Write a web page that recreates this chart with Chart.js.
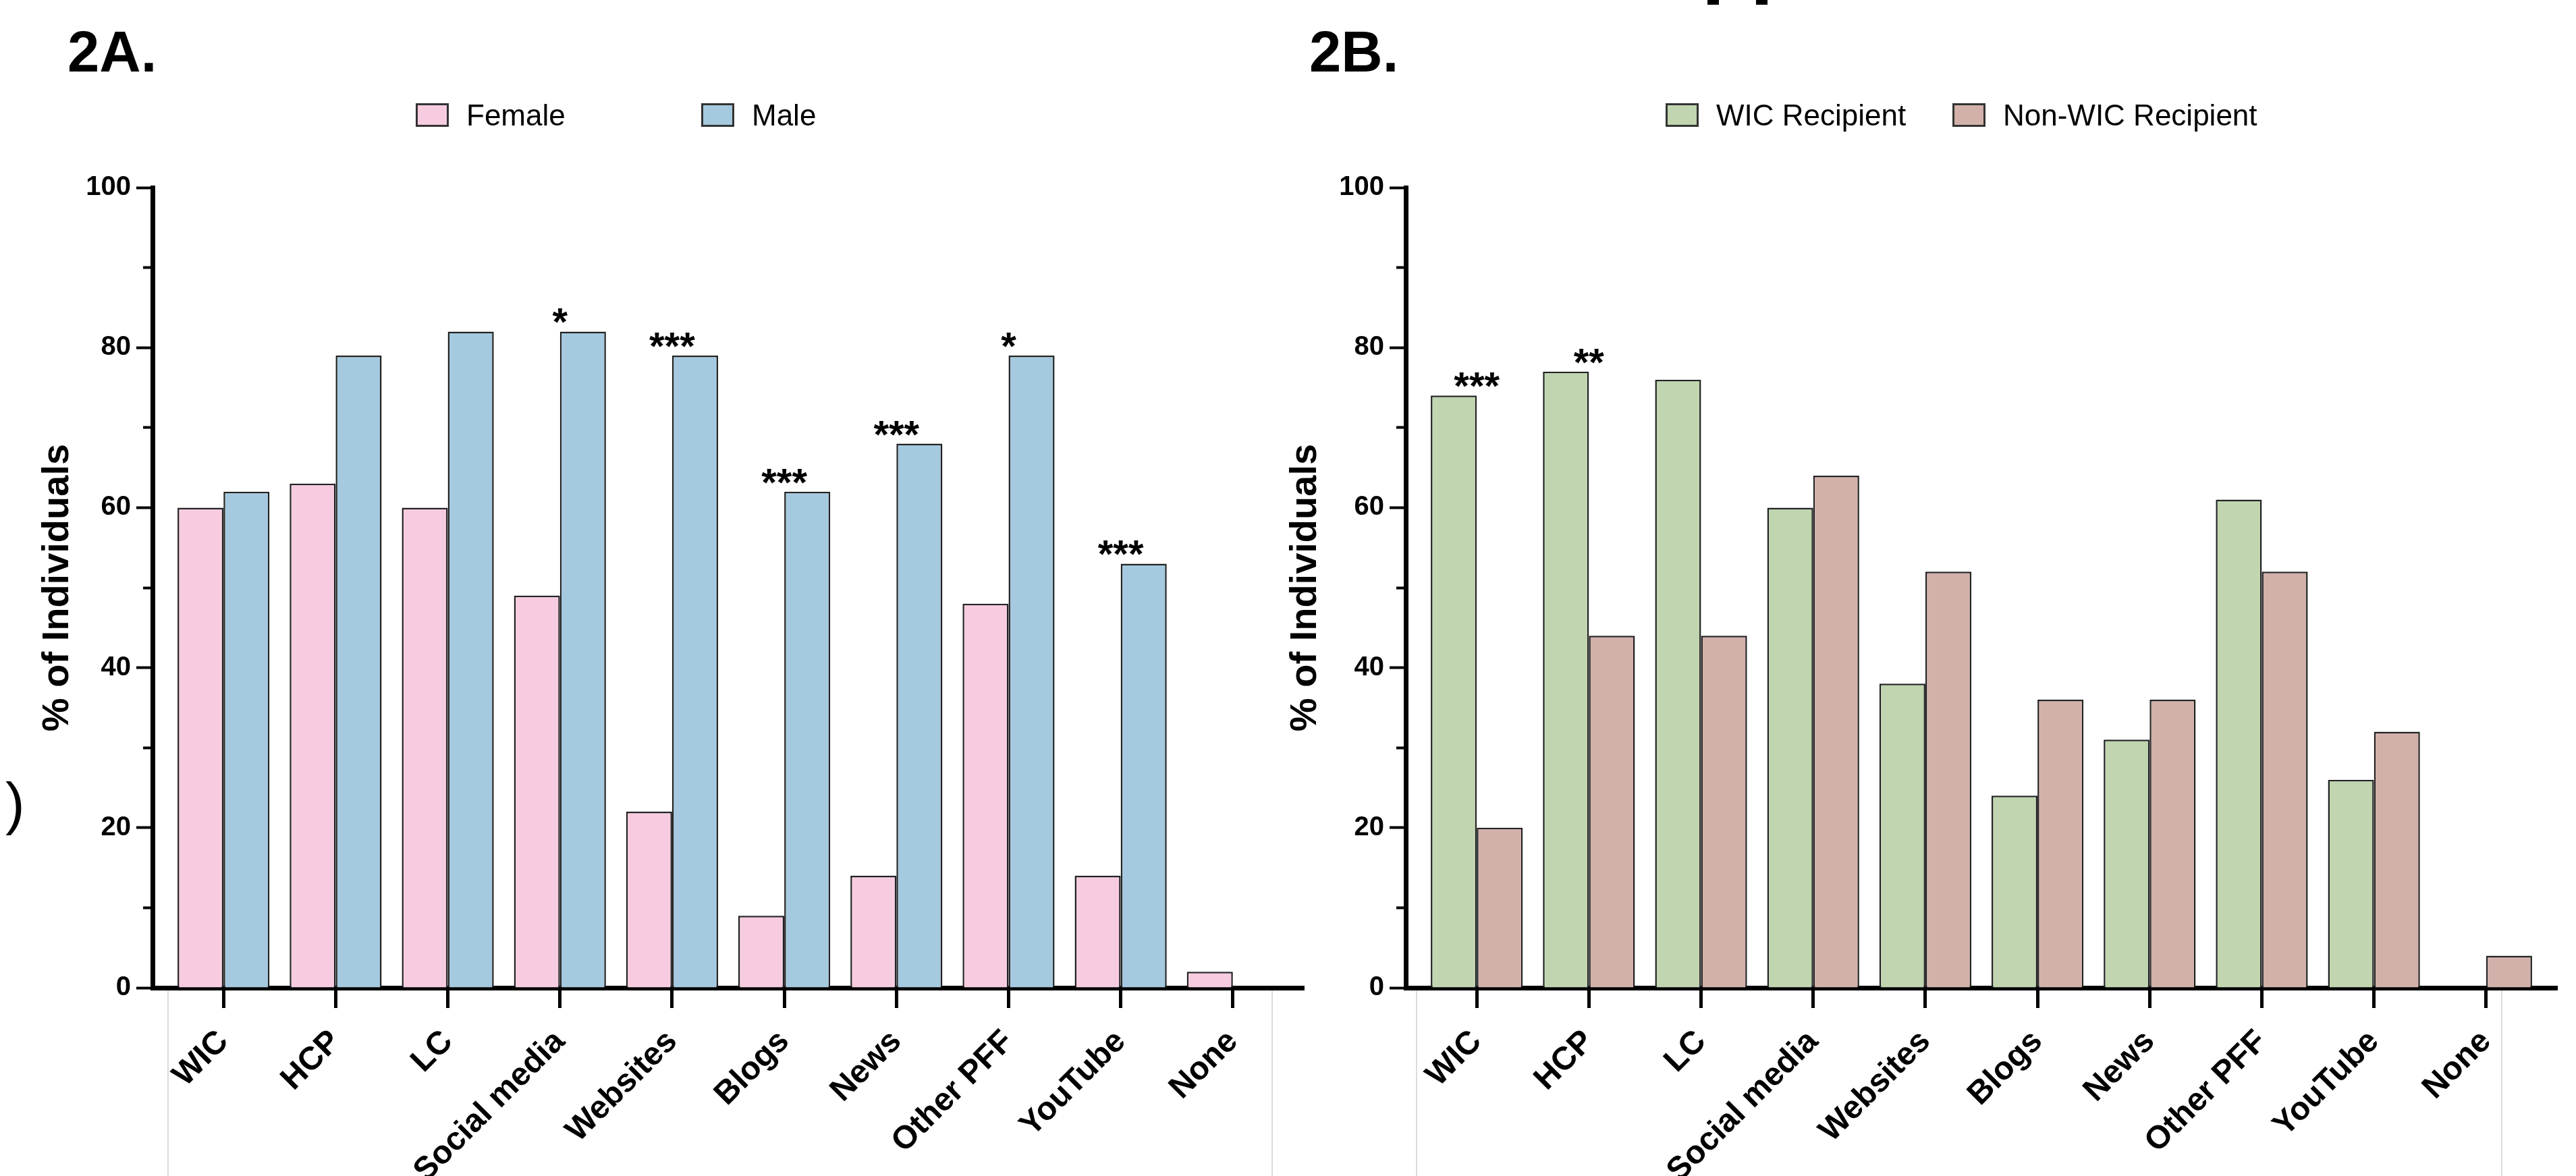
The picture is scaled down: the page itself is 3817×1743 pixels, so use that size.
<!DOCTYPE html>
<html>
<head>
<meta charset="utf-8">
<script src="https://cdn.jsdelivr.net/npm/chart.js@4.4.1/dist/chart.umd.min.js"></script>
<style>
  html, body { margin: 0; padding: 0; background: #fff; }
  body { position: relative; width: 3817px; height: 1743px; overflow: hidden; font-family: "Liberation Sans", Arial, Helvetica, sans-serif; }
  canvas { position: absolute; top: 0; }
  .panel-title { position: absolute; top: 34px; font-size: 85px; font-weight: bold; line-height: 1; color: #000; }
  .legend-item { position: absolute; display: flex; align-items: center; height: 35px; font-size: 44px; line-height: 1; color: #000; white-space: nowrap; }
  .legend-item .box { width: 49px; height: 35px; box-sizing: border-box; border: 3px solid #333; margin-right: 26px; }
  .faint { position: absolute; top: 1468px; width: 2px; height: 275px; background: #dcdcdc; }
  .crop { position: absolute; background: #000; }
</style>
</head>
<body>
<div class="panel-title" style="left:100px">2A.</div>
<div class="panel-title" style="left:1940px">2B.</div>
<div style="position:absolute;left:8px;top:1147px;font-size:86px;line-height:1;">)</div>
<div class="crop" style="left:2530px;top:0;width:17px;height:7px"></div>
<div class="crop" style="left:2602px;top:0;width:17px;height:7px"></div>
<div class="faint" style="left:248px"></div>
<div class="faint" style="left:1884px"></div>
<div class="faint" style="left:2098px"></div>
<div class="faint" style="left:3706px"></div>

<canvas id="chartA" width="1950" height="1743" style="left:0"></canvas>
<canvas id="chartB" width="1957" height="1743" style="left:1860px"></canvas>

<script>
const categories = ['WIC', 'HCP', 'LC', 'Social media', 'Websites', 'Blogs', 'News', 'Other PFF', 'YouTube', 'None'];

// 2A: by sex
const female = [60, 63, 60, 49, 22, 9, 14, 48, 14, 2];
const male = [62, 79, 82, 82, 79, 62, 68, 79, 53, 0];
const starsA = ['', '', '', '*', '***', '***', '***', '*', '***', ''];

// 2B: by WIC status
const wicRecipient = [74, 77, 76, 60, 38, 24, 31, 61, 26, 0];
const nonWicRecipient = [20, 44, 44, 64, 52, 36, 36, 52, 32, 4];
const starsB = ['***', '**', '', '', '', '', '', '', '', ''];

const yTicks = [0, 20, 40, 60, 80, 100];

const FONT = '"Liberation Sans", Arial, Helvetica, sans-serif';
Chart.defaults.font.family = FONT;
Chart.defaults.color = '#000';

// significance stars above each category
const starPlugin = {
    id: 'stars',
    afterDatasetsDraw(chart, args, opts) {
        const { ctx, scales: { x, y } } = chart;
        ctx.save();
        ctx.font = 'bold 58px ' + FONT;
        ctx.textAlign = 'center';
        ctx.textBaseline = 'alphabetic';
        ctx.fillStyle = '#000';
        opts.labels.forEach((s, i) => {
            if (!s) return;
            const top = Math.max(...chart.data.datasets.map(d => d.data[i].y));
            ctx.fillText(s, x.getPixelForValue(i), y.getPixelForValue(top) + 6);
        });
        ctx.restore();
    }
};

const toPoints = arr => arr.map((v, i) => ({ x: i, y: v }));

function makeChart(id, series, labels, colors, stars, yAxisWidth, titlePad, padRight) {
    return new Chart(document.getElementById(id), {
        type: 'bar',
        data: {
            datasets: series.map((s, k) => ({
                label: labels[k],
                data: toPoints(s),
                backgroundColor: colors[k],
                borderColor: '#222',
                borderWidth: 2.5,
                categoryPercentage: 0.82,
                barPercentage: 1.0
            }))
        },
        options: {
            responsive: false,
            animation: false,
            layout: { padding: { top: 278, left: 0, right: padRight, bottom: 0 } },
            plugins: {
                legend: { display: false },
                tooltip: { enabled: false },
                stars: { labels: stars }
            },
            scales: {
                x: {
                    type: 'linear',
                    offset: false,
                    min: -0.633,
                    max: 9.633,
                    afterBuildTicks: s => { s.ticks = categories.map((c, i) => ({ value: i })); },
                    afterFit: s => { s.height = 279; },
                    border: { color: '#000', width: 7 },
                    grid: { offset: false, drawOnChartArea: false, tickLength: 30, tickWidth: 5, tickColor: '#000' },
                    ticks: {
                        autoSkip: false,
                        minRotation: 45,
                        maxRotation: 45,
                        padding: 22,
                        font: { size: 48, weight: 'bold' },
                        color: '#000',
                        callback: v => categories[v]
                    }
                },
                y: {
                    min: 0,
                    max: 100,
                    afterFit: s => { s.width = yAxisWidth; },
                    border: { color: '#000', width: 7 },
                    grid: {
                        drawOnChartArea: false,
                        tickLength: 24,
                        tickWidth: 4,
                        tickColor: '#000',
                        // minor ticks (10, 30, ...) are drawn shorter
                        tickBorderDash: c => (c.tick && yTicks.includes(c.tick.value)) ? [] : [0, 10, 30, 100]
                    },
                    ticks: {
                        stepSize: 10,
                        padding: 8,
                        font: { size: 40, weight: 'bold' },
                        color: '#000',
                        callback: v => yTicks.includes(v) ? v : ''
                    },
                    title: {
                        display: true,
                        text: '% of Individuals',
                        font: { size: 56, weight: 'bold' },
                        color: '#000',
                        padding: { top: titlePad, bottom: 0 }
                    }
                }
            }
        },
        plugins: [starPlugin]
    });
}

function buildLegend(chart, lefts) {
    chart.data.datasets.forEach((ds, i) => {
        const item = document.createElement('div');
        item.className = 'legend-item';
        item.style.left = lefts[i] + 'px';
        item.style.top = '153px';
        const box = document.createElement('span');
        box.className = 'box';
        box.style.background = ds.backgroundColor;
        const txt = document.createElement('span');
        txt.textContent = ds.label;
        item.appendChild(box);
        item.appendChild(txt);
        document.body.appendChild(item);
    });
}

const chartA = makeChart('chartA', [female, male], ['Female', 'Male'],
    ['#F7CCE0', '#A5C9DE'], starsA, 226, 52, 18);
const chartB = makeChart('chartB', [wicRecipient, nonWicRecipient], ['WIC Recipient', 'Non-WIC Recipient'],
    ['#C0D5B0', '#D3B1AB'], starsB, 223, 41, 28);

buildLegend(chartA, [616, 1039]);
buildLegend(chartB, [2468, 2893]);
</script>
</body>
</html>
